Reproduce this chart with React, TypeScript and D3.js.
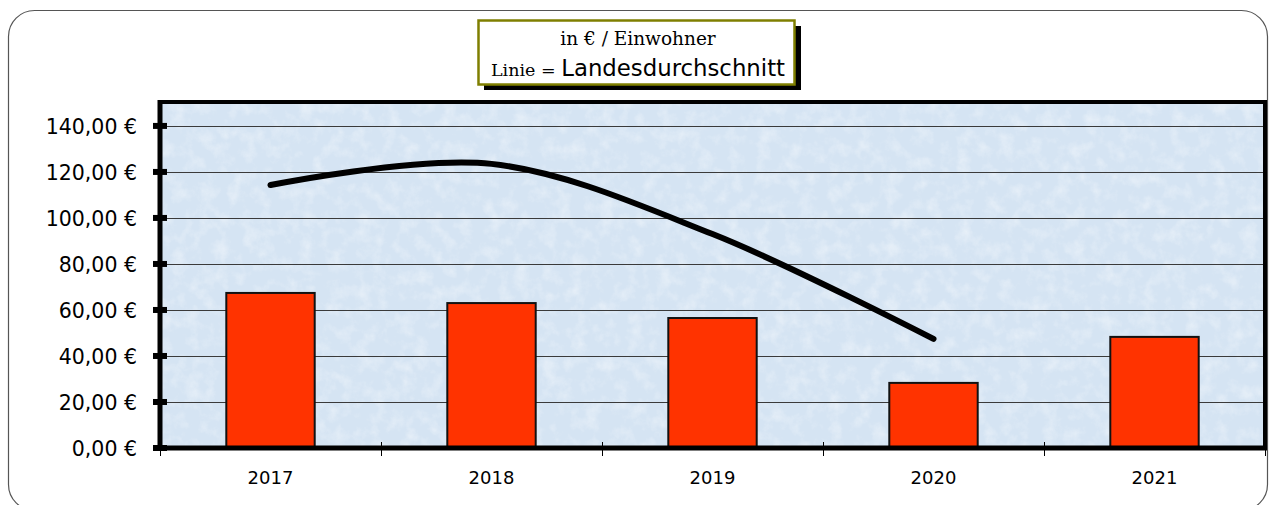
import React, { useEffect, useRef } from 'react'
import * as d3 from 'd3'

// years on the x axis
const years = ['2017', '2018', '2019', '2020', '2021']
// bar values, € per inhabitant
const values = [67.4, 63.0, 56.5, 28.3, 48.3]
// state average (the black line), no value for 2021
const average = [114.3, 123.5, 93.0, 47.4]
const yTicks = [0, 20, 40, 60, 80, 100, 120, 140]

function App() {
  const ref = useRef<SVGSVGElement | null>(null)

  useEffect(() => {
    const svg = d3.select(ref.current)
    svg.selectAll('*').remove()

    const width = 1270
    const height = 505
    const left = 160
    const right = 1265
    const top = 102
    const bottom = 448

    const x = d3.scaleBand()
      .domain(years)
      .range([left, right])
      .paddingInner(0.6)
      .paddingOuter(0.3)
    const y = d3.scaleLinear()
      .domain([0, 150.4])
      .range([bottom, top])

    const defs = svg.append('defs')
    const filter = defs.append('filter')
      .attr('id', 'paper')
      .attr('x', 0).attr('y', 0).attr('width', '100%').attr('height', '100%')
    filter.append('feTurbulence')
      .attr('type', 'fractalNoise')
      .attr('baseFrequency', 0.07)
      .attr('numOctaves', 4)
      .attr('seed', 3)
    filter.append('feColorMatrix')
      .attr('type', 'matrix')
      .attr('values', '0 0 0 0 1  0 0 0 0 1  0 0 0 0 1  1.6 0 0 0 -0.7')

    // outer frame
    svg.append('rect')
      .attr('x', 8.5).attr('y', 10.5)
      .attr('width', 1259).attr('height', 500)
      .attr('rx', 26)
      .attr('fill', 'white')
      .attr('stroke', '#555')
      .attr('stroke-width', 1.2)

    // plot background
    svg.append('rect')
      .attr('x', left).attr('y', top)
      .attr('width', right - left).attr('height', bottom - top)
      .attr('fill', '#d5e4f3')
    svg.append('rect')
      .attr('x', left).attr('y', top)
      .attr('width', right - left).attr('height', bottom - top)
      .attr('fill', 'white')
      .attr('filter', 'url(#paper)')
      .attr('opacity', 0.5)

    // grid
    svg.append('g')
      .selectAll('line')
      .data(yTicks.filter(d => d > 0))
      .enter()
      .append('line')
      .attr('x1', left).attr('x2', right)
      .attr('y1', d => Math.round(y(d)) + 0.5)
      .attr('y2', d => Math.round(y(d)) + 0.5)
      .attr('stroke', '#3a3a3a')
      .attr('stroke-width', 1)

    // bars
    svg.append('g')
      .selectAll('rect')
      .data(values)
      .enter()
      .append('rect')
      .attr('x', (d, i) => x(years[i]) as number)
      .attr('y', d => y(d))
      .attr('width', x.bandwidth())
      .attr('height', d => bottom - y(d))
      .attr('fill', '#ff3300')
      .attr('stroke', '#111')
      .attr('stroke-width', 2)

    // average line
    const line = d3.line<number>()
      .x((d, i) => (x(years[i]) as number) + x.bandwidth() / 2)
      .y(d => y(d))
      .curve(d3.curveCatmullRom.alpha(0))
    svg.append('path')
      .datum(average)
      .attr('d', line)
      .attr('fill', 'none')
      .attr('stroke', '#000')
      .attr('stroke-width', 6)
      .attr('stroke-linecap', 'round')

    // plot border
    svg.append('line')
      .attr('x1', left).attr('x2', right + 2)
      .attr('y1', top).attr('y2', top)
      .attr('stroke', '#000').attr('stroke-width', 4)
    svg.append('line')
      .attr('x1', right).attr('x2', right)
      .attr('y1', top).attr('y2', bottom)
      .attr('stroke', '#000').attr('stroke-width', 4)

    // x axis category ticks
    const step = x.step()
    const bounds = years.map((d, i) => left + step * (i + 1))
    svg.append('g')
      .selectAll('line')
      .data(bounds)
      .enter()
      .append('line')
      .attr('x1', d => Math.round(d) + 0.5)
      .attr('x2', d => Math.round(d) + 0.5)
      .attr('y1', bottom - 6).attr('y2', bottom + 8)
      .attr('stroke', '#000').attr('stroke-width', 1)
    svg.append('line')
      .attr('x1', left + 0.5).attr('x2', left + 0.5)
      .attr('y1', bottom).attr('y2', bottom + 8)
      .attr('stroke', '#000').attr('stroke-width', 1)
    svg.append('line')
      .attr('x1', left - 4).attr('x2', right + 2)
      .attr('y1', bottom).attr('y2', bottom)
      .attr('stroke', '#000').attr('stroke-width', 5)
    svg.append('line')
      .attr('x1', left).attr('x2', left)
      .attr('y1', top - 2).attr('y2', bottom + 2)
      .attr('stroke', '#000').attr('stroke-width', 5)

    // y ticks + labels
    const yAxis = svg.append('g')
    yAxis.selectAll('rect')
      .data(yTicks)
      .enter()
      .append('rect')
      .attr('x', left - 7).attr('y', d => y(d) - 3)
      .attr('width', 14).attr('height', 6)
      .attr('fill', '#000')
    yAxis.selectAll('text')
      .data(yTicks)
      .enter()
      .append('text')
      .attr('x', 137)
      .attr('y', d => y(d))
      .attr('dy', '0.37em')
      .style('text-anchor', 'end')
      .style('font-family', 'DejaVu Sans')
      .style('font-size', '20.5px')
      .style('fill', '#000')
      .text(d => d3.format('.2f')(d).replace('.', ',') + ' €')

    svg.append('g')
      .selectAll('text')
      .data(years)
      .enter()
      .append('text')
      .attr('x', d => (x(d) as number) + x.bandwidth() / 2)
      .attr('y', 484)
      .style('text-anchor', 'middle')
      .style('font-family', 'DejaVu Sans')
      .style('font-size', '18px')
      .style('fill', '#000')
      .text(d => d)

    // title box
    svg.append('rect')
      .attr('x', 484).attr('y', 26)
      .attr('width', 317).attr('height', 64)
      .attr('fill', '#000')
    svg.append('rect')
      .attr('x', 478.5).attr('y', 20.5)
      .attr('width', 316).attr('height', 64)
      .attr('fill', 'white')
      .attr('stroke', '#7f7f00')
      .attr('stroke-width', 2.5)
    svg.append('text')
      .attr('x', 638).attr('y', 45)
      .style('text-anchor', 'middle')
      .style('font-family', 'DejaVu Serif')
      .style('font-size', '18.5px')
      .style('fill', '#000')
      .text('in € / Einwohner')
    const t2 = svg.append('text')
      .attr('x', 638).attr('y', 76)
      .style('text-anchor', 'middle')
      .style('fill', '#000')
    t2.append('tspan')
      .style('font-family', 'DejaVu Serif')
      .style('font-size', '17.5px')
      .text('Linie = ')
    t2.append('tspan')
      .style('font-family', 'DejaVu Sans')
      .style('font-size', '22.8px')
      .text('Landesdurchschnitt')

    svg.attr('width', width).attr('height', height)
  }, [])

  return (
    <svg ref={ref} width={1270} height={505}
      style={{ position: 'absolute', left: 0, top: 0, display: 'block' }} />
  )
}

export default App
